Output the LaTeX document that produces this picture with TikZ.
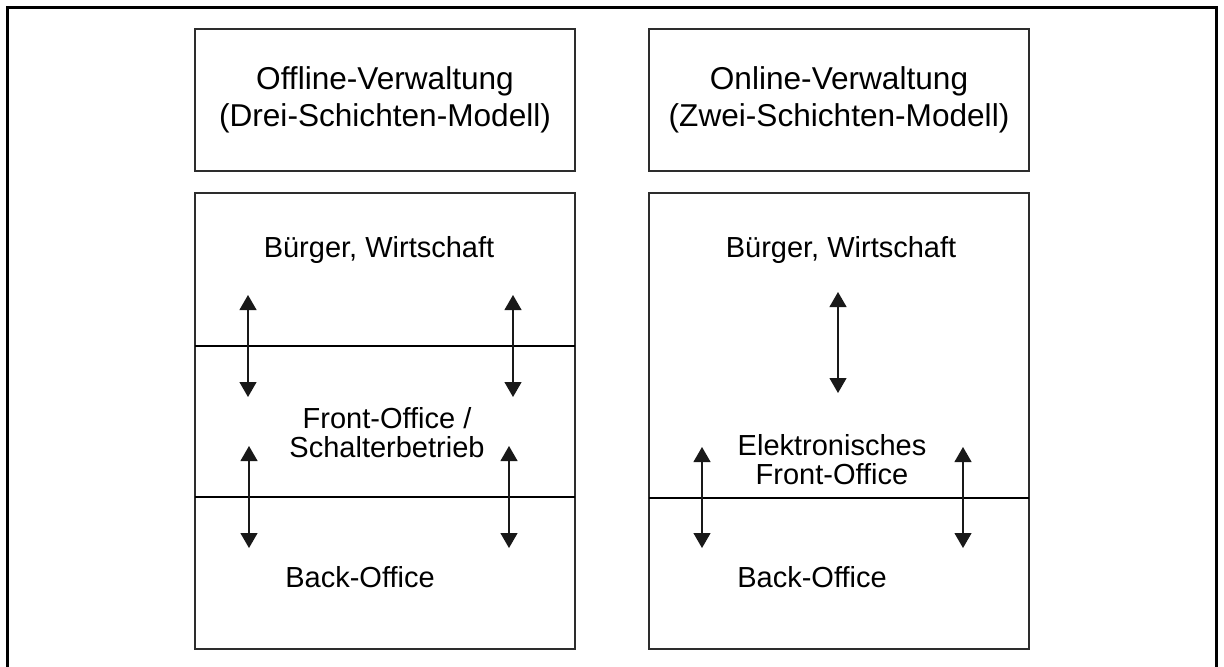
\documentclass[tikz,border=0pt]{standalone}
\usepackage{fontspec}
\setmainfont{Liberation Sans}
\usetikzlibrary{arrows.meta}
\definecolor{boxLine}{RGB}{45, 45, 45}
\definecolor{arrowLine}{RGB}{25, 25, 25}

\begin{document}
\begin{tikzpicture}[x=0.5pt, y=-0.5pt,
    title/.style={draw=boxLine, line width=0.75pt, minimum width=190pt, minimum height=71pt, align=center, font=\fontsize{15.8}{18.5}\selectfont},
    layer/.style={draw=boxLine, line width=0.75pt, minimum width=190pt, anchor=north west, inner sep=0pt, outer sep=0pt},
    lbl/.style={align=center, inner sep=0pt, font=\fontsize{14.5}{14.6}\selectfont},
    divider/.style={line width=1pt, draw=black},
    dblarrow/.style={{Triangle[length=7.5pt,width=8.5pt]}-{Triangle[length=7.5pt,width=8.5pt]}, line width=0.6pt, draw=arrowLine, fill=arrowLine}]
    \useasboundingbox (0,0) rectangle (1224,666);
    \draw[line width=1.5pt] (7.5,672) -- (7.5,7) -- (1216.5,7) -- (1216.5,672);

    \node[title] (offTitle) at (385,100) {Offline-Verwaltung\\(Drei-Schichten-Modell)};
    \node[title] (onTitle) at (839,100) {Online-Verwaltung\\(Zwei-Schichten-Modell)};

    % 左: 三层
    \node[layer, minimum height=76.5pt] (lBuerger) at (195,193) {};
    \node[layer, minimum height=75.5pt] (lFront) at (195,346) {};
    \node[layer, minimum height=76pt] (lBack) at (195,497) {};
    \draw[divider] (lFront.north west) -- (lFront.north east);
    \draw[divider] (lBack.north west) -- (lBack.north east);

    \node[lbl, anchor=base] (lBuergerTxt) at (379,257) {Bürger, Wirtschaft};
    \node[lbl] (lFrontTxt) at (387,433) {Front-Office /\\Schalterbetrieb};
    \node[lbl, anchor=base] (lBackTxt) at (360,587) {Back-Office};

    \coordinate (lA1) at (248,295);
    \coordinate (lA2) at (248,397);
    \coordinate (lB1) at (513,295);
    \coordinate (lB2) at (513,397);
    \coordinate (lC1) at (249,446);
    \coordinate (lC2) at (249,548);
    \coordinate (lD1) at (509,446);
    \coordinate (lD2) at (509,548);
    \draw[dblarrow] (lA1) -- (lA2);
    \draw[dblarrow] (lB1) -- (lB2);
    \draw[dblarrow] (lC1) -- (lC2);
    \draw[dblarrow] (lD1) -- (lD2);

    % 右: 两层
    \node[layer, minimum height=152.5pt] (rFront) at (649,193) {};
    \node[layer, minimum height=75.5pt] (rBack) at (649,498) {};
    \draw[divider] (rBack.north west) -- (rBack.north east);

    \node[lbl, anchor=base] (rBuergerTxt) at (841,257) {Bürger, Wirtschaft};
    \node[lbl] (rFrontTxt) at (832,460) {Elektronisches\\Front-Office};
    \node[lbl, anchor=base] (rBackTxt) at (812,587) {Back-Office};

    \coordinate (rA1) at (838,292);
    \coordinate (rA2) at (838,393);
    \coordinate (rB1) at (702,447);
    \coordinate (rB2) at (702,548);
    \coordinate (rC1) at (963,447);
    \coordinate (rC2) at (963,548);
    \draw[dblarrow] (rA1) -- (rA2);
    \draw[dblarrow] (rB1) -- (rB2);
    \draw[dblarrow] (rC1) -- (rC2);
\end{tikzpicture}
\end{document}
